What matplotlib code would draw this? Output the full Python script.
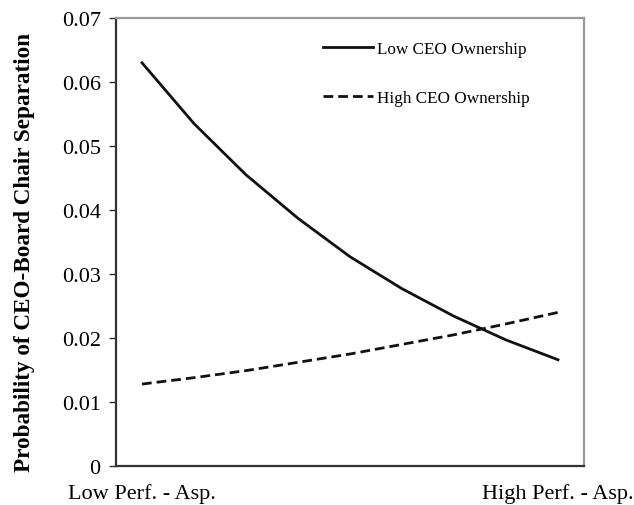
import matplotlib
matplotlib.use("Agg")
import matplotlib.pyplot as plt

x_idx = [0, 1, 2, 3, 4, 5, 6, 7, 8]
low_own = [0.063, 0.0535, 0.0455, 0.0387, 0.0327, 0.0277, 0.0234, 0.0197, 0.0166]
high_own = [0.0128, 0.0138, 0.0149, 0.0162, 0.0175, 0.0190, 0.0205, 0.0222, 0.0240]
x_labels = ["Low Perf. - Asp.", "High Perf. - Asp."]
y_ticks = [0, 0.01, 0.02, 0.03, 0.04, 0.05, 0.06, 0.07]
y_ticklabels = ["0", "0.01", "0.02", "0.03", "0.04", "0.05", "0.06", "0.07"]

plt.rcParams['font.family'] = ['Liberation Serif', 'DejaVu Serif']

fig = plt.figure(figsize=(6.34, 5.06), dpi=100)
ax = fig.add_axes([116/634, 39/506, 468/634, 448/506])

ax.plot(x_idx, low_own, color='#111111', lw=2.0, label='Low CEO Ownership')
ax.plot(x_idx, high_own, color='#111111', lw=2.0, dashes=(3.5, 1.8), label='High CEO Ownership')

ax.set_xlim(-0.5, 8.5)
ax.set_ylim(0, 0.07)
ax.set_yticks(y_ticks)
ax.set_yticklabels(y_ticklabels, fontsize=16)
ax.set_xticks([x_idx[0], x_idx[-1]])
ax.set_xticklabels(x_labels, fontsize=16)
ax.tick_params(axis='x', length=0, pad=12)
ax.tick_params(axis='y', length=5, width=1, color='#333333', pad=6)

for s in ['left', 'bottom']:
    ax.spines[s].set_color('#333333')
    ax.spines[s].set_linewidth(1.6)
for s in ['top', 'right']:
    ax.spines[s].set_color('#999999')
    ax.spines[s].set_linewidth(1.6)

ax.set_ylabel('Probability of CEO-Board Chair Separation', fontsize=16.7, fontweight='bold')
ax.yaxis.set_label_coords(-0.174, 0.48)

leg = ax.legend(loc='upper left', bbox_to_anchor=(0.442, 0.949), frameon=False,
                fontsize=12.3, handlelength=2.95, handletextpad=0.2, labelspacing=1.95,
                borderpad=0, borderaxespad=0)

fig.savefig('out.png', dpi=100)
